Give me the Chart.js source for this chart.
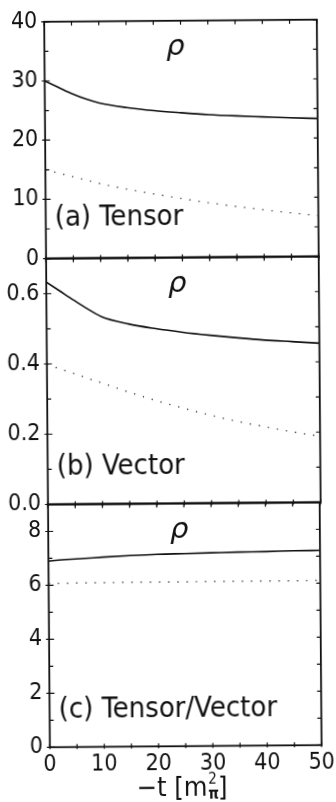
<!DOCTYPE html>
<html>
<head>
<meta charset="utf-8">
<script src="https://cdn.jsdelivr.net/npm/chart.js@4"></script>
<style>
  html, body { margin: 0; background: #fff; }
  #fig { position: relative; width: 336px; height: 802px; transform: rotate(-0.45deg); }
  #fig canvas { position: absolute; left: 0; top: 0; }
</style>
</head>
<body>
<div id="fig">
  <canvas id="panel-a" width="336" height="802"></canvas>
  <canvas id="panel-b" width="336" height="802"></canvas>
  <canvas id="panel-c" width="336" height="802"></canvas>
</div>
<script>
// -t in units of m_pi^2
const tValues = [0, 2.5, 5, 7.5, 10, 15, 20, 25, 30, 35, 40, 45, 50];

const tensorSolid  = [30.0, 28.9, 27.8, 26.9, 26.2, 25.4, 24.85, 24.45, 24.1, 23.85, 23.65, 23.45, 23.3];
const tensorDotted = [15.0, 14.4, 13.8, 13.2, 12.6, 11.6, 10.75, 9.95, 9.2, 8.55, 7.95, 7.4, 6.9];
const vectorSolid  = [0.633, 0.607, 0.581, 0.556, 0.534, 0.512, 0.498, 0.487, 0.478, 0.470, 0.463, 0.458, 0.453];
const vectorDotted = [0.399, 0.385, 0.372, 0.358, 0.345, 0.318, 0.293, 0.271, 0.250, 0.232, 0.216, 0.201, 0.188];
const ratioSolid   = [6.90, 6.94, 6.97, 7.00, 7.03, 7.08, 7.12, 7.14, 7.16, 7.18, 7.19, 7.21, 7.22];
const ratioDotted  = [6.07, 6.07, 6.08, 6.08, 6.08, 6.09, 6.09, 6.09, 6.10, 6.10, 6.10, 6.10, 6.11];

const tensorTicks = [0, 10, 20, 30, 40];
const vectorTicks = [0, 0.2, 0.4, 0.6];
const ratioTicks  = [0, 2, 4, 6, 8];
const tTicks      = [0, 10, 20, 30, 40, 50];

const FONT = "'Liberation Sans Narrow', 'DejaVu Sans Condensed', sans-serif";
const INK = '#111';

// box around each panel with inward ticks, plus the rho and panel caption
const framePlugin = {
  id: 'frame',
  afterDraw(chart, args, opts) {
    const { ctx, chartArea: a } = chart;
    const ys = chart.scales.y, xs = chart.scales.x;
    ctx.save();
    ctx.strokeStyle = INK;
    ctx.lineWidth = 1.8;
    ctx.strokeRect(a.left, a.top, a.right - a.left, a.bottom - a.top);

    ctx.lineWidth = 1.2;
    ctx.beginPath();
    const ny = Math.round((ys.max - ys.min) / opts.yMinor);
    for (let i = 0; i <= ny; i++) {
      const v = ys.min + i * opts.yMinor;
      const py = ys.getPixelForValue(v);
      const major = opts.yMajor.some(m => Math.abs(m - v) < 1e-6);
      ctx.moveTo(a.left - (major ? 3 : 0), py);
      ctx.lineTo(a.left + (major ? 5 : 4), py);
      ctx.moveTo(a.right, py);
      ctx.lineTo(a.right - 4, py);
    }
    const nx = Math.round((xs.max - xs.min) / 5);
    for (let i = 0; i <= nx; i++) {
      const px = xs.getPixelForValue(xs.min + i * 5);
      ctx.moveTo(px, a.top);
      ctx.lineTo(px, a.top + 4);
      ctx.moveTo(px, a.bottom + 2);
      ctx.lineTo(px, a.bottom - 3);
    }
    ctx.stroke();

    ctx.fillStyle = INK;
    ctx.textBaseline = 'alphabetic';
    ctx.textAlign = 'center';
    ctx.font = 'italic 29px "DejaVu Sans"';
    ctx.fillText('ρ', a.left + 131, a.top + 34);

    ctx.textAlign = 'left';
    ctx.font = '29px ' + FONT;
    ctx.fillText(opts.caption, a.left + 9, a.bottom - opts.captionLift);

    if (opts.axisTitle) {
      // -t [m_pi^2] with stacked super/subscript
      const base = 796;
      const left = '−t [m', right = ']';
      ctx.font = '27px ' + FONT;
      const wl = ctx.measureText(left).width;
      ctx.font = '15px ' + FONT;
      const ws = Math.max(ctx.measureText('2').width, ctx.measureText('π').width);
      ctx.font = '27px ' + FONT;
      const wr = ctx.measureText(right).width;
      let x = (a.left + a.right) / 2 - (wl + ws + wr + 2) / 2 - 4;
      ctx.fillText(left, x, base);
      x += wl + 1;
      ctx.font = '15px ' + FONT;
      ctx.fillText('2', x, base - 12);
      ctx.font = 'bold 15px ' + FONT;
      ctx.fillText('π', x, base + 3);
      x += ws + 1;
      ctx.font = '27px ' + FONT;
      ctx.fillText(right, x, base);
    }
    ctx.restore();
  }
};

function series(ys) {
  return tValues.map((t, i) => ({ x: t, y: ys[i] }));
}

function makePanel(id, cfg) {
  const ctx = document.getElementById(id).getContext('2d');
  return new Chart(ctx, {
    type: 'line',
    data: {
      datasets: [{
        data: series(cfg.solid),
        borderColor: INK,
        borderWidth: 1.6,
        pointRadius: 0,
        cubicInterpolationMode: 'monotone'
      }, {
        data: series(cfg.dotted),
        borderColor: '#333',
        borderWidth: 1.4,
        borderDash: [1.2, 8],
        pointRadius: 0,
        cubicInterpolationMode: 'monotone'
      }]
    },
    options: {
      responsive: false,
      animation: false,
      layout: { padding: { top: cfg.top, bottom: cfg.bottom, right: 16.2, left: 0 } },
      plugins: {
        legend: { display: false },
        tooltip: { enabled: false },
        frame: {
          yMinor: cfg.yMinor,
          yMajor: cfg.ticks,
          caption: cfg.caption,
          captionLift: cfg.captionLift,
          axisTitle: cfg.showX
        }
      },
      scales: {
        x: {
          type: 'linear',
          min: 0,
          max: 50,
          display: cfg.showX,
          grid: { display: false, drawTicks: false },
          border: { display: false },
          afterBuildTicks: s => { s.ticks = tTicks.map(v => ({ value: v })); },
          afterFit: s => { if (cfg.showX) s.height = 55.7; },
          ticks: { color: INK, padding: 4, maxRotation: 0, font: { family: FONT, size: 23 } }
        },
        y: {
          min: cfg.min,
          max: cfg.max,
          grid: { display: false, drawTicks: false },
          border: { display: false },
          afterBuildTicks: s => { s.ticks = cfg.ticks.map(v => ({ value: v })); },
          afterFit: s => { s.width = 47.2; },
          ticks: {
            color: INK,
            padding: 7,
            font: { family: FONT, size: 23 },
            callback: cfg.format
          }
        }
      }
    },
    plugins: [framePlugin]
  });
}

makePanel('panel-a', {
  solid: tensorSolid, dotted: tensorDotted, min: 0, max: 40,
  ticks: tensorTicks, yMinor: 5, format: v => String(v),
  top: 11.2, bottom: 802 - 257.6, caption: '(a) Tensor', captionLift: 33, showX: false
});
makePanel('panel-b', {
  solid: vectorSolid, dotted: vectorDotted, min: 0, max: 0.7,
  ticks: vectorTicks, yMinor: 0.1, format: v => v.toFixed(1),
  top: 257.6, bottom: 802 - 503.5, caption: '(b) Vector', captionLift: 30, showX: false
});
makePanel('panel-c', {
  solid: ratioSolid, dotted: ratioDotted, min: 0, max: 9,
  ticks: ratioTicks, yMinor: 1, format: v => String(v),
  top: 503.5, bottom: 0, caption: '(c) Tensor/Vector', captionLift: 29, showX: true
});
</script>
</body>
</html>
